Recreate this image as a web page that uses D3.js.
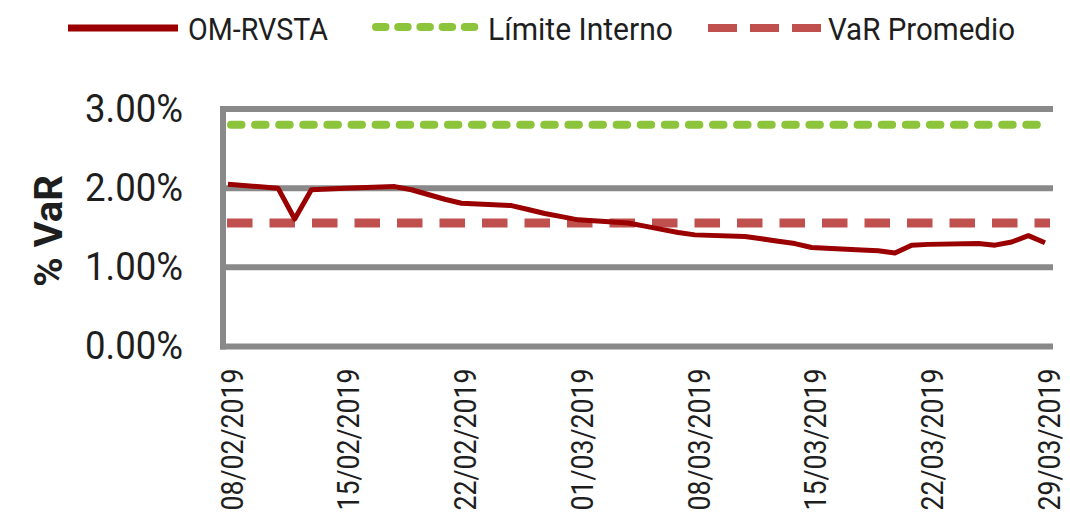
<!DOCTYPE html>
<html>
<head>
<meta charset="utf-8">
<script src="https://cdn.jsdelivr.net/npm/d3@7"></script>
<style>
body { margin: 0; background: #fff; }
svg text { font-family: "Liberation Sans Narrow", "Roboto", "Liberation Sans", sans-serif; fill: #1e1e1e; }
</style>
</head>
<body>
<svg id="chart" width="1070" height="513"></svg>
<script>

//data (business days, % VaR)
let dates = [
    "08/02/2019", "11/02/2019", "12/02/2019", "13/02/2019", "14/02/2019", "15/02/2019",
    "18/02/2019", "19/02/2019", "20/02/2019", "21/02/2019", "22/02/2019",
    "25/02/2019", "26/02/2019", "27/02/2019", "28/02/2019", "01/03/2019",
    "04/03/2019", "05/03/2019", "06/03/2019", "07/03/2019", "08/03/2019",
    "11/03/2019", "12/03/2019", "13/03/2019", "14/03/2019", "15/03/2019",
    "18/03/2019", "19/03/2019", "20/03/2019", "21/03/2019", "22/03/2019",
    "25/03/2019", "26/03/2019", "27/03/2019", "28/03/2019", "29/03/2019"
];
let omValues = [
    2.05, 2.00, 1.61, 1.98, 1.99, 2.00,
    2.02, 1.98, 1.92, 1.86, 1.81,
    1.78, 1.73, 1.68, 1.64, 1.60,
    1.56, 1.52, 1.48, 1.44, 1.41,
    1.39, 1.36, 1.33, 1.30, 1.25,
    1.22, 1.21, 1.18, 1.28, 1.29,
    1.30, 1.28, 1.32, 1.40, 1.31
];
let limiteInterno = 2.80;
let varPromedio = 1.56;

let xTickLabels = ["08/02/2019", "15/02/2019", "22/02/2019", "01/03/2019",
    "08/03/2019", "15/03/2019", "22/03/2019", "29/03/2019"];
let yTicks = [0, 1, 2, 3];
let seriesNames = ["OM-RVSTA", "Límite Interno", "VaR Promedio"];

let parseDate = d3.utcParse("%d/%m/%Y");
let svg = d3.select("#chart");

let plotLeft = 223;
let plotRight = 1053;
let plotTop = 109;
let plotBottom = 346.5;

let xScale = d3.scaleUtc()
    .domain([parseDate(dates[0]), parseDate(dates[dates.length - 1])])
    .range([228, 1045]);

let yScale = d3.scaleLinear()
    .domain([0, 3])
    .range([plotBottom, plotTop]);

//stretch a text to the width seen in the picture
function fitText(sel, len) {
    sel.attr("textLength", len).attr("lengthAdjust", "spacingAndGlyphs");
}

//gridlines
svg.append("g")
    .selectAll("line")
    .data(yTicks)
    .join("line")
    .attr("x1", plotLeft - 3)
    .attr("x2", plotRight)
    .attr("y1", d => yScale(d))
    .attr("y2", d => yScale(d))
    .style("stroke", "#898989")
    .style("stroke-width", 6);

//left axis line
svg.append("line")
    .attr("x1", plotLeft)
    .attr("x2", plotLeft)
    .attr("y1", plotTop - 3)
    .attr("y2", plotBottom + 3)
    .style("stroke", "#898989")
    .style("stroke-width", 6);

//y axis labels
let yAxis = svg.append("g")
    .attr("transform", "translate(" + plotLeft + ",0)")
    .call(d3.axisLeft(yScale)
        .tickValues(yTicks)
        .tickSize(0)
        .tickPadding(40)
        .tickFormat(d => d3.format(".2%")(d / 100)));
yAxis.select(".domain").remove();
yAxis.attr("font-family", null).attr("font-size", null);
yAxis.selectAll("text")
    .style("font-size", "38px")
    .call(fitText, 98);

//x axis labels
let xAxis = svg.append("g")
    .attr("transform", "translate(0," + plotBottom + ")")
    .call(d3.axisBottom(xScale)
        .tickValues(xTickLabels.map(parseDate))
        .tickSize(0)
        .tickFormat(d3.utcFormat("%d/%m/%Y")));
xAxis.select(".domain").remove();
xAxis.attr("font-family", null).attr("font-size", null);
xAxis.selectAll("text")
    .style("font-size", "32px")
    .style("text-anchor", "end")
    .attr("transform", "rotate(-90)")
    .attr("x", -22)
    .attr("y", 3)
    .attr("dy", "0.35em")
    .call(fitText, 142);

//y axis title
svg.append("text")
    .attr("transform", "translate(49,231) rotate(-90)")
    .attr("dy", "0.35em")
    .style("text-anchor", "middle")
    .style("font-size", "38px")
    .style("font-weight", "bold")
    .text("% VaR")
    .call(fitText, 112);

//Límite Interno (rounded dashes)
svg.append("line")
    .attr("x1", 231)
    .attr("x2", 1044)
    .attr("y1", yScale(limiteInterno))
    .attr("y2", yScale(limiteInterno))
    .style("stroke", "#8cc43c")
    .style("stroke-width", 8)
    .style("stroke-linecap", "round")
    .style("stroke-dasharray", "10.5,13.6");

//VaR Promedio
svg.append("line")
    .attr("x1", 227)
    .attr("x2", 1050)
    .attr("y1", yScale(varPromedio))
    .attr("y2", yScale(varPromedio))
    .style("stroke", "#c0504d")
    .style("stroke-width", 9)
    .style("stroke-dasharray", "25.5,17");

//OM-RVSTA line
let line = d3.line()
    .x((d, i) => xScale(parseDate(dates[i])))
    .y(d => yScale(d));

svg.append("path")
    .datum(omValues)
    .attr("d", line)
    .style("fill", "none")
    .style("stroke", "#9a0000")
    .style("stroke-width", 5)
    .style("stroke-linejoin", "round");

//legend
let legendY = 28;

svg.append("line")
    .attr("x1", 68).attr("x2", 178)
    .attr("y1", legendY).attr("y2", legendY)
    .style("stroke", "#9a0000")
    .style("stroke-width", 7);

svg.append("line")
    .attr("x1", 376).attr("x2", 478)
    .attr("y1", legendY - 1).attr("y2", legendY - 1)
    .style("stroke", "#8cc43c")
    .style("stroke-width", 8)
    .style("stroke-linecap", "round")
    .style("stroke-dasharray", "9.5,12.7");

svg.append("line")
    .attr("x1", 708).attr("x2", 821)
    .attr("y1", legendY).attr("y2", legendY)
    .style("stroke", "#c0504d")
    .style("stroke-width", 8)
    .style("stroke-dasharray", "29,13");

let legendText = [188, 488, 828];
let legendLen = [140, 185, 187];

svg.append("g")
    .selectAll("text")
    .data(seriesNames)
    .join("text")
    .attr("x", (d, i) => legendText[i])
    .attr("y", 40)
    .style("font-size", "31px")
    .text(d => d)
    .each(function (d, i) {
        d3.select(this).call(fitText, legendLen[i]);
    });

</script>
</body>
</html>
